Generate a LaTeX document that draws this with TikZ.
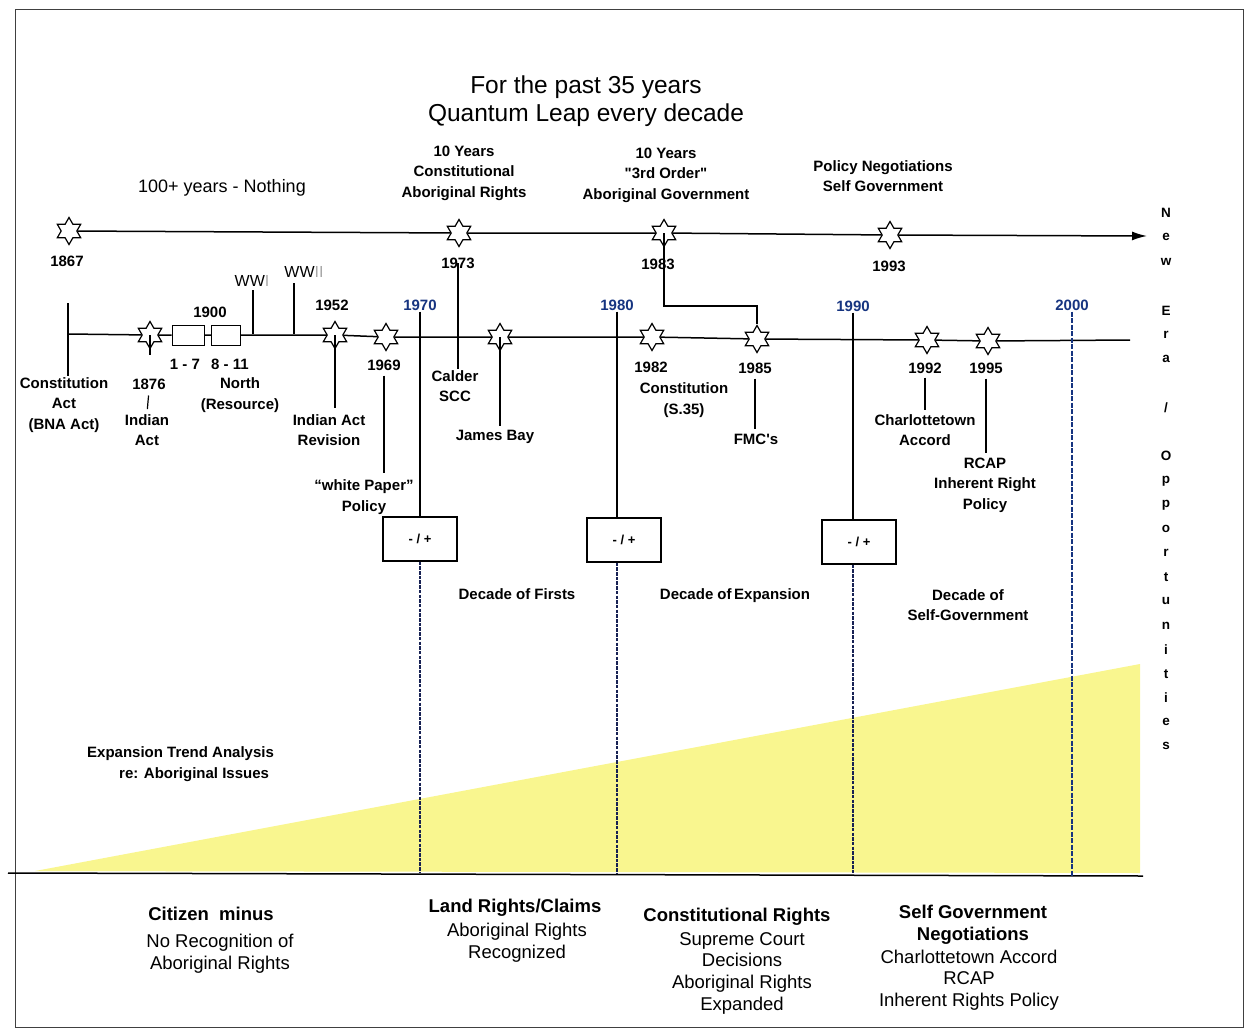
\documentclass[tikz,border=0pt]{standalone}
\usepackage{fontspec}
\setmainfont{Liberation Sans}[Ligatures=TeXOff]
\usetikzlibrary{shapes.geometric,arrows.meta}
\definecolor{decblue}{RGB}{22,52,128}
\definecolor{dotnavy}{RGB}{24,34,84}
\definecolor{trendyel}{RGB}{249,246,143}
\begin{document}
\begin{tikzpicture}[x=1pt,y=-1pt,
  ev/.style={star,star points=6,star point ratio=1.73,draw,fill=white,
    minimum size=27pt,inner sep=0pt,line width=1.2pt},
  lbl/.style={font=\fontsize{15}{20.5}\selectfont\bfseries,align=center,inner sep=1pt},
  declbl/.style={lbl,text=decblue},
  pmbox/.style={draw,line width=1.3pt,minimum width=74pt,minimum height=44pt,
    font=\fontsize{13}{15}\selectfont\bfseries},
  yrbox/.style={draw,line width=1pt,minimum height=20pt,inner sep=0pt},
  note/.style={font=\fontsize{18}{22}\selectfont,align=center,inner sep=1pt},
  foot/.style={font=\fontsize{18.5}{21.7}\selectfont,align=center,inner sep=0pt},
  footb/.style={foot,font=\fontsize{18.5}{22.5}\selectfont\bfseries},
  era/.style={font=\fontsize{13.5}{15}\selectfont\bfseries,inner sep=0pt},
  ln/.style={line width=1.5pt},
  tick/.style={line width=1.2pt},
  decline/.style={dotnavy,line width=2.6pt,dash pattern=on 3.5pt off 1.2pt}]
\useasboundingbox (0,0) rectangle (1248,1029);
% frame, trend wedge, bottom rule
\draw[line width=1pt,black!75] (15,9) rectangle (1243,1027);
\fill[trendyel] (35,871) -- (1140,664) -- (1140,873) -- cycle;
\coordinate (sepl) at (8,873);
\coordinate (sepr) at (1143,876);
\draw[ln] (sepl) -- (sepr);
%
\node[note,font=\fontsize{24.5}{28.5}\selectfont] (ttl) at (586,101)
  {For the past 35 years\\Quantum Leap every decade};
\node[note] (nothing) at (222,188) {100+ years - Nothing};
\node[lbl] (t1973) at (464,173) {10 Years\\Constitutional\\Aboriginal Rights};
\node[lbl] (t1983) at (666,175) {10 Years\\"3rd Order"\\Aboriginal Government};
\node[lbl] (t1993) at (883,176) {Policy Negotiations\\Self Government};
% upper line
\node[ev] (s1867) at (69,231) {};
\node[ev] (s1973) at (459,233) {};
\node[ev] (s1983) at (664,233) {};
\node[ev] (s1993) at (890,235) {};
\coordinate (tip) at (1147,236);
\draw[ln,-{Latex[length=15pt,width=9pt]}] (s1867) -- (s1973) -- (s1983) -- (s1993) -- (tip);
\node[lbl] (y1867) at (67,261) {1867};
\node[lbl] (y1973) at (458,263) {1973};
\node[lbl] (y1983) at (658,264) {1983};
\node[lbl] (y1993) at (889,266) {1993};
% lower line
\coordinate (lstart) at (68,334);
\coordinate (lend) at (1130,340);
\node[ev] (s1876) at (150,335) {};
\node[yrbox,minimum width=32pt] (b1) at (188,335) {};
\node[yrbox,minimum width=29pt] (b2) at (226,335) {};
\node[ev] (s1952) at (335,335) {};
\node[ev] (s1969) at (386,337) {};
\node[ev] (sjb) at (500,337) {};
\node[ev] (s1982) at (652,337) {};
\node[ev] (s1985) at (757,339) {};
\node[ev] (s1992) at (927,340) {};
\node[ev] (s1995) at (988,341) {};
\draw[ln] (lstart) -- (s1876) -- (b1) -- (b2) -- (s1952) -- (s1969) -- (sjb)
  -- (s1982) -- (s1985) -- (s1992) -- (s1995) -- (lend);
%
\node[lbl] (bna) at (64,405) {Constitution\\Act\\(BNA Act)};
\coordinate (cst) at (68,303);
\draw[ln] (cst) -- (cst |- bna.north);
\node[lbl] (y1876) at (149,384) {1876};
\node[lbl] (act1876) at (147,430) {Indian\\Act};
\draw[ln] (s1876.center) -- ([yshift=-5pt]s1876.south);
\draw[tick,shorten <=5pt,shorten >=4pt] (y1876.south) -- (act1876.north);
\node[lbl] (y1900) at (210,312) {1900};
\node[lbl] (r17) at (185,364) {1 - 7};
\node[lbl] (r811) at (230,364) {8 - 11};
\node[lbl] (north) at (240,395) {North\\(Resource)};
\node[note,font=\fontsize{16}{18}\selectfont] (ww1) at (252,281) {WW\textcolor{black!35}{I}};
\node[note,font=\fontsize{16}{18}\selectfont] (ww2) at (304,272) {WW\textcolor{black!35}{II}};
\coordinate (w1top) at (253,290);
\coordinate (w2top) at (294,283);
\draw[tick] (w1top) -- (w1top |- lstart);
\draw[tick] (w2top) -- (w2top |- lstart);
\node[lbl] (y1952) at (332,305) {1952};
\node[lbl] (ia) at (329,430) {Indian Act\\Revision};
\draw[tick,shorten >=5pt] (s1952.center) -- (s1952.center |- ia.north);
\node[lbl] (y1969) at (384,365) {1969};
\node[lbl] (wp) at (364,497) {“white Paper”\\Policy};
\draw[tick,shorten <=4pt,shorten >=6pt] (y1969.south) -- (y1969.south |- wp.north);
\node[lbl] (calder) at (455,386) {Calder\\SCC};
\draw[tick] (y1973.center) -- (y1973.center |- calder.north);
\node[lbl] (jb) at (495,437) {James Bay};
\draw[tick,shorten >=3pt] (sjb.center) -- (sjb.center |- jb.north);
\node[lbl] (y1982) at (651,367) {1982};
\node[lbl] (cs35) at (684,400) {Constitution\\(S.35)};
\coordinate (bend) at (664,306);
\draw[tick] (s1983.center) -- (bend) -| (s1985.north);
\node[lbl] (y1985) at (755,368) {1985};
\node[lbl] (fmc) at (756,439) {FMC's};
\draw[tick,shorten <=4pt,shorten >=3pt] (y1985.south) -- (y1985.south |- fmc.north);
\node[lbl] (y1992) at (925,368) {1992};
\node[lbl] (cha) at (925,430) {Charlottetown\\Accord};
\draw[tick,shorten <=3pt,shorten >=3pt] (y1992.south) -- (y1992.south |- cha.north);
\node[lbl] (y1995) at (986,368) {1995};
\node[lbl] (rcap) at (985,485) {RCAP\\Inherent Right\\Policy};
\draw[tick,shorten <=4pt,shorten >=4pt] (y1995.south) -- (y1995.south |- rcap.north);
% decade markers
\node[declbl] (d1970) at (420,305) {1970};
\node[declbl] (d1980) at (617,305) {1980};
\node[declbl] (d1990) at (853,306) {1990};
\node[declbl] (d2000) at (1072,305) {2000};
\node[pmbox] (pm1) at (420,539) {- / +};
\node[pmbox] (pm2) at (624,540) {- / +};
\node[pmbox] (pm3) at (859,542) {- / +};
\foreach \d/\b in {d1970/pm1,d1980/pm2,d1990/pm3}{
  \draw[tick] (\d.south) -- (\d.south |- \b.north);
  \draw[decline] (\d.south |- \b.south) -- (\d.south |- sepl);
}
\draw[decblue,line width=2.5pt,dash pattern=on 5pt off 1.5pt] (d2000.south) -- (d2000.south |- sepr);
%
\node[lbl] (dfirst) at (517,594) {Decade of Firsts};
\node[lbl] (dexp) at (735,596) {Decade of\,Expansion};
\node[lbl] (dself) at (968,605) {Decade of\\Self-Government};
\node[lbl,align=left,anchor=west] (trend) at (86,764)
  {Expansion Trend Analysis\\\hspace*{32pt}re: Aboriginal Issues};
% right margin
\foreach \ch/\yy [count=\k] in {N/213,e/237,w/262,E/311,r/335,a/359,O/456,p/481,p/505,
  o/529,r/553,t/577,u/601,n/626,i/650,t/674,i/698,e/722,s/746}
  \node[era] (era\k) at (1166,\yy) {\ch};
\node[era] (slash) at (1166,408) {/};
% bottom panel
\node[footb] (cit) at (211,914) {Citizen\ \ minus};
\node[foot] (nrec) at (220,954) {No Recognition of\\Aboriginal Rights};
\node[footb] (land) at (515,908) {Land Rights/Claims};
\node[foot] (landr) at (517,943) {Aboriginal Rights\\Recognized};
\node[footb] (con) at (737,917) {Constitutional Rights};
\node[foot] (conr) at (742,973) {Supreme Court\\Decisions\\Aboriginal Rights\\Expanded};
\node[footb] (selfg) at (973,924.5) {Self Government\\Negotiations};
\node[foot] (selfr) at (969,980) {Charlottetown Accord\\RCAP\\Inherent Rights Policy};
\end{tikzpicture}
\end{document}
